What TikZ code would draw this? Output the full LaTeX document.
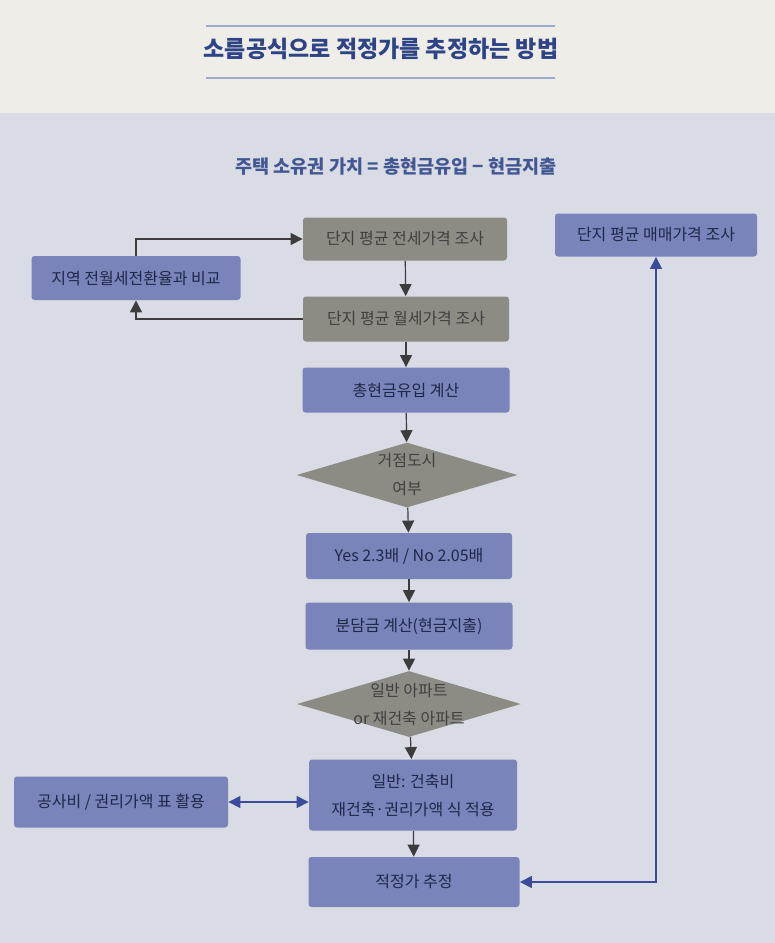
\documentclass[tikz,border=0pt]{standalone}
\usepackage{fontspec}
\setmainfont{Noto Sans CJK KR}
\usepackage{xcolor}
\usepackage{tikz}
\usetikzlibrary{shapes.geometric, arrows.meta, calc}
\definecolor{pagecream}{RGB}{238,237,231}
\definecolor{panelgray}{RGB}{217,220,229}
\definecolor{boxblue}{RGB}{122,132,186}
\definecolor{boxgray}{RGB}{140,139,132}
\definecolor{titleblue}{RGB}{46,68,134}
\definecolor{ruleblue}{RGB}{154,170,203}
\definecolor{textnavy}{RGB}{31,39,72}
\definecolor{linegray}{RGB}{60,60,60}
\definecolor{lineblue}{RGB}{58,74,156}

\begin{document}
\begin{tikzpicture}[x=0.5pt, y=-0.5pt,
  box/.style={rectangle, rounded corners=1.5pt, inner sep=0pt, align=center,
    font=\fontsize{8}{14}\selectfont, text=textnavy},
  bluebox/.style={box, fill=boxblue},
  graybox/.style={box, fill=boxgray, text=black!75},
  decision/.style={diamond, fill=boxgray, inner sep=0pt},
  dlabel/.style={align=center, font=\fontsize{8}{14}\selectfont, text=black!75},
  flow/.style={draw=linegray, line width=0.6pt, -{Triangle[length=6pt, width=6pt]}},
  link/.style={draw=lineblue, line width=0.6pt,
    {Triangle[length=6pt, width=6pt]}-{Triangle[length=6pt, width=6pt]}}]
% Page
\fill[pagecream] (0,0) rectangle (775,943);
\fill[panelgray] (0,113) rectangle (775,943);
\useasboundingbox (0,0) rectangle (775,943);

% Title
\draw[ruleblue, line width=0.8pt] (206,26) -- (555,26);
\draw[ruleblue, line width=0.8pt] (206,78) -- (555,78);
\node[font=\fontsize{11.5}{13}\selectfont\bfseries, text=titleblue] (title) at (381,49) {소름공식으로 적정가를 추정하는 방법};
\node[font=\fontsize{9.3}{11}\selectfont\bfseries, text=titleblue!90] (formula) at (396,167) {주택 소유권 가치 = 총현금유입 − 현금지출};

% Boxes
\node[graybox, minimum width=102pt, minimum height=21.5pt] (jeonse) at (405,239) {단지 평균 전세가격 조사};
\node[bluebox, minimum width=101pt, minimum height=21.5pt] (maemae) at (656,235) {단지 평균 매매가격 조사};
\node[bluebox, minimum width=104.5pt, minimum height=22pt] (jiyeok) at (136,278) {지역 전월세전환율과 비교};
\node[graybox, minimum width=103pt, minimum height=22.5pt] (wolse) at (406,319) {단지 평균 월세가격 조사};
\node[bluebox, minimum width=103.5pt, minimum height=22.5pt] (cashin) at (406,390) {총현금유입 계산};
\node[decision, minimum width=110.5pt, minimum height=32.5pt,
  label={[dlabel]center:거점도시\\여부}] (hub) at (407,475) {};
\node[bluebox, minimum width=103pt, minimum height=23pt] (ratio) at (409,556) {Yes 2.3배 / No 2.05배};
\node[bluebox, minimum width=103.5pt, minimum height=23.5pt] (share) at (409,626) {분담금 계산(현금지출)};
\node[decision, minimum width=112pt, minimum height=33pt,
  label={[dlabel]center:일반 아파트\\or 재건축 아파트}] (apt) at (409,704) {};
\node[bluebox, minimum width=104pt, minimum height=35.5pt] (cost) at (413,795) {일반: 건축비\\재건축·권리가액 식 적용};
\node[bluebox, minimum width=107pt, minimum height=25.5pt] (table) at (121,802) {공사비 / 권리가액 표 활용};
\node[bluebox, minimum width=105.5pt, minimum height=25pt] (price) at (414,882) {적정가 추정};

% Connectors
\draw[flow] (jeonse) -- (wolse);
\draw[flow] (wolse) -- (cashin);
\draw[flow] (cashin) -- (hub);
\draw[flow] (hub) -- (ratio);
\draw[flow] (ratio) -- (share);
\draw[flow] (share) -- (apt);
\draw[flow] (apt) -- (cost);
\draw[flow] (cost) -- (price);
\draw[flow] (jiyeok.north) |- (jeonse.west);
\draw[flow] (wolse.west) -| (jiyeok.south);
\draw[link] (table.east) -- (table.east -| cost.west);
\draw[link] (price.east) -| (maemae.south);
\end{tikzpicture}
\end{document}
